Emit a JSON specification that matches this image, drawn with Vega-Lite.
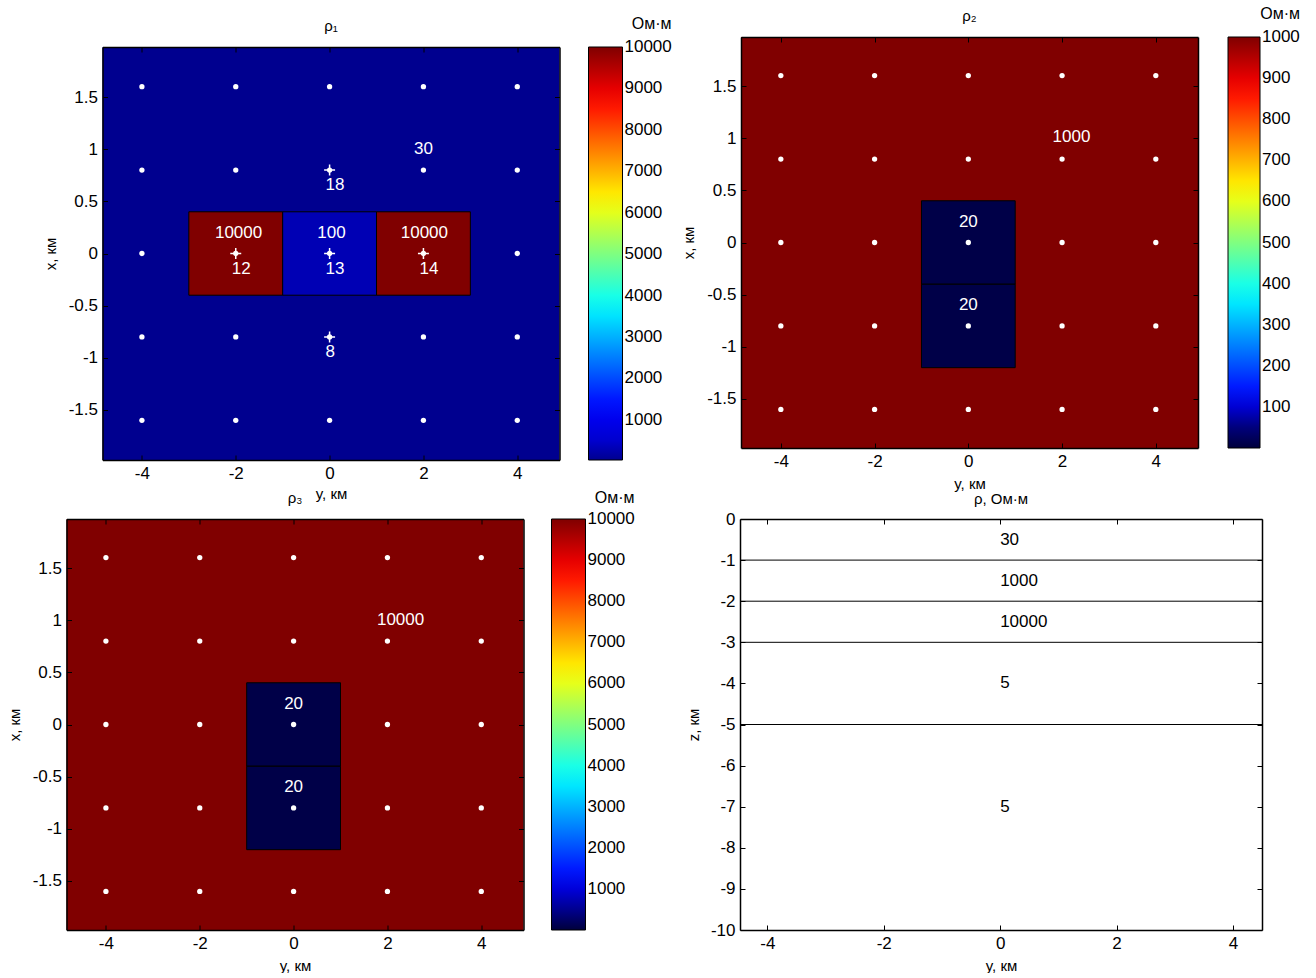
{
  "$schema": "https://vega.github.io/schema/vega-lite/v6.json",
  "background": "white",
  "padding": {"left": 6.5, "top": 6, "right": 5, "bottom": 0},
  "autosize": {"type": "pad"},
  "config": {
    "font": "Liberation Sans",
    "view": {"stroke": null},
    "axis": {"labelFontSize": 17, "titleFontSize": 15, "titleFontWeight": "normal", "labelColor": "black", "titleColor": "black", "tickColor": "black", "domainColor": "black", "domainWidth": 1.5, "tickSize": -5, "tickWidth": 1, "labelPadding": 10, "grid": false, "labelFont": "Liberation Sans", "titleFont": "Liberation Sans"},
    "legend": {"titleFontSize": 16, "titleFontWeight": "normal", "labelFontSize": 17, "labelColor": "black", "titleColor": "black", "labelOffset": 3, "labelBaseline": "middle", "gradientStrokeColor": "black", "gradientStrokeWidth": 1, "padding": 0, "titlePadding": 15, "labelOverlap": false, "labelFont": "Liberation Sans", "titleFont": "Liberation Sans"},
    "title": {"fontSize": 15, "fontWeight": "normal", "color": "black", "font": "Liberation Sans"}
  },
  "datasets": {
    "st": [
      {"ykm": -4, "xkm": 1.6}, {"ykm": -2, "xkm": 1.6}, {"ykm": 0, "xkm": 1.6}, {"ykm": 2, "xkm": 1.6}, {"ykm": 4, "xkm": 1.6},
      {"ykm": -4, "xkm": 0.8}, {"ykm": -2, "xkm": 0.8}, {"ykm": 0, "xkm": 0.8}, {"ykm": 2, "xkm": 0.8}, {"ykm": 4, "xkm": 0.8},
      {"ykm": -4, "xkm": 0}, {"ykm": -2, "xkm": 0}, {"ykm": 0, "xkm": 0}, {"ykm": 2, "xkm": 0}, {"ykm": 4, "xkm": 0},
      {"ykm": -4, "xkm": -0.8}, {"ykm": -2, "xkm": -0.8}, {"ykm": 0, "xkm": -0.8}, {"ykm": 2, "xkm": -0.8}, {"ykm": 4, "xkm": -0.8},
      {"ykm": -4, "xkm": -1.6}, {"ykm": -2, "xkm": -1.6}, {"ykm": 0, "xkm": -1.6}, {"ykm": 2, "xkm": -1.6}, {"ykm": 4, "xkm": -1.6}
    ],
    "sp1": [
      {"ykm": 0, "xkm": 0.8, "n": "18"},
      {"ykm": -2, "xkm": 0, "n": "12"},
      {"ykm": 0, "xkm": 0, "n": "13"},
      {"ykm": 2, "xkm": 0, "n": "14"},
      {"ykm": 0, "xkm": -0.8, "n": "8"}
    ]
  },
  "spacing": -11,
  "resolve": {"scale": {"color": "independent"}, "legend": {"color": "independent"}},
  "vconcat": [
    {
      "spacing": 8.5,
      "resolve": {"scale": {"color": "independent"}, "legend": {"color": "independent"}},
      "hconcat": [
        {
          "spacing": -31,
          "resolve": {"scale": {"color": "independent"}, "legend": {"color": "independent"}},
          "vconcat": [
            {"width": 1, "height": 10, "data": {"values": []}, "mark": "point", "view": {"fill": "white"}},
            {
              "spacing": -61,
              "resolve": {"scale": {"color": "independent"}, "legend": {"color": "independent"}},
              "hconcat": [
                {"width": 36, "height": 1, "data": {"values": []}, "mark": "point", "view": {"fill": "white"}},
                {
                  "width": 457, "height": 413,
                  "title": {"text": "ρ₁", "offset": -18},
                  "resolve": {"axis": {"x": "independent", "y": "independent"}},
                  "layer": [
                    {
                      "data": {"values": [{"y1": -4.84, "y2": 4.9, "x1": -1.98, "x2": 1.98, "rho": 30}]},
                      "mark": {"type": "rect"},
                      "encoding": {
                        "x": {"field": "y1", "type": "quantitative", "scale": {"domain": [-4.84, 4.9], "nice": false, "zero": false}, "axis": {"orient": "bottom", "values": [-4, -2, 0, 2, 4], "labelExpr": "''+datum.value", "title": "y, км", "titlePadding": 5, "zindex": 1}},
                        "x2": {"field": "y2"},
                        "y": {"field": "x1", "type": "quantitative", "scale": {"domain": [-1.98, 1.98], "nice": false, "zero": false}, "axis": {"orient": "left", "values": [-1.5, -1, -0.5, 0, 0.5, 1, 1.5], "labelExpr": "''+datum.value", "title": "x, км", "titlePadding": 10, "zindex": 1}},
                        "y2": {"field": "x2"},
                        "color": {"field": "rho", "type": "quantitative", "scale": {"type": "linear", "domain": [30, 100, 1276, 3769, 6261, 8754, 10000], "range": ["#00008F", "#0000B4", "#0000FF", "#00FFFF", "#FFFF00", "#FF0000", "#800000"], "interpolate": "rgb"}, "legend": {"title": "Ом·м", "orient": "none", "legendX": 486, "legendY": -31, "direction": "vertical", "gradientLength": 413, "gradientThickness": 34, "values": [1000, 2000, 3000, 4000, 5000, 6000, 7000, 8000, 9000, 10000], "labelExpr": "''+datum.value", "titleAnchor": "end", "encode": {"labels": {"update": {"baseline": {"value": "middle"}}}}}}
                      }
                    },
                    {
                      "data": {"values": [{"y1": -3, "y2": -1, "x1": -0.4, "x2": 0.4, "rho": 10000}, {"y1": -1, "y2": 1, "x1": -0.4, "x2": 0.4, "rho": 100}, {"y1": 1, "y2": 3, "x1": -0.4, "x2": 0.4, "rho": 10000}]},
                      "mark": {"type": "rect", "stroke": "black", "strokeWidth": 1},
                      "encoding": {
                        "x": {"field": "y1", "type": "quantitative", "scale": {"domain": [-4.84, 4.9], "nice": false, "zero": false}, "axis": {"orient": "top", "values": [-4, -2, 0, 2, 4], "labels": false, "title": null, "zindex": 1}},
                        "x2": {"field": "y2"},
                        "y": {"field": "x1", "type": "quantitative", "scale": {"domain": [-1.98, 1.98], "nice": false, "zero": false}, "axis": {"orient": "right", "values": [-1.5, -1, -0.5, 0, 0.5, 1, 1.5], "labels": false, "title": null, "zindex": 1}},
                        "y2": {"field": "x2"},
                        "color": {"field": "rho", "type": "quantitative", "scale": {"type": "linear", "domain": [30, 100, 1276, 3769, 6261, 8754, 10000], "range": ["#00008F", "#0000B4", "#0000FF", "#00FFFF", "#FFFF00", "#FF0000", "#800000"], "interpolate": "rgb"}, "legend": {"title": "Ом·м", "orient": "none", "legendX": 486, "legendY": -31, "direction": "vertical", "gradientLength": 413, "gradientThickness": 34, "values": [1000, 2000, 3000, 4000, 5000, 6000, 7000, 8000, 9000, 10000], "labelExpr": "''+datum.value", "titleAnchor": "end", "encode": {"labels": {"update": {"baseline": {"value": "middle"}}}}}}
                      }
                    },
                    {
                      "data": {"name": "st"},
                      "mark": {"type": "point", "filled": true, "color": "white", "size": 28, "opacity": 1},
                      "encoding": {
                        "x": {"field": "ykm", "type": "quantitative", "scale": {"domain": [-4.84, 4.9], "nice": false, "zero": false}, "axis": null},
                        "y": {"field": "xkm", "type": "quantitative", "scale": {"domain": [-1.98, 1.98], "nice": false, "zero": false}, "axis": null}
                      }
                    },
                    {
                      "data": {"name": "sp1"},
                      "mark": {"type": "point", "shape": "M-1,0L1,0M0,-1L0,1", "filled": false, "stroke": "white", "strokeWidth": 1.5, "size": 120, "opacity": 1},
                      "encoding": {
                        "x": {"field": "ykm", "type": "quantitative", "scale": {"domain": [-4.84, 4.9], "nice": false, "zero": false}, "axis": null},
                        "y": {"field": "xkm", "type": "quantitative", "scale": {"domain": [-1.98, 1.98], "nice": false, "zero": false}, "axis": null}
                      }
                    },
                    {
                      "data": {"name": "sp1"},
                      "mark": {"type": "text", "color": "white", "fontSize": 17, "align": "left", "dx": -4, "dy": 15},
                      "encoding": {
                        "x": {"field": "ykm", "type": "quantitative", "scale": {"domain": [-4.84, 4.9], "nice": false, "zero": false}, "axis": null},
                        "y": {"field": "xkm", "type": "quantitative", "scale": {"domain": [-1.98, 1.98], "nice": false, "zero": false}, "axis": null},
                        "text": {"field": "n"}
                      }
                    },
                    {
                      "data": {"values": [{"ykm": -1.94, "xkm": 0.2, "t": "10000"}, {"ykm": 0.04, "xkm": 0.2, "t": "100"}, {"ykm": 2.02, "xkm": 0.2, "t": "10000"}, {"ykm": 2.0, "xkm": 1.0, "t": "30"}]},
                      "mark": {"type": "text", "color": "white", "fontSize": 17},
                      "encoding": {
                        "x": {"field": "ykm", "type": "quantitative", "scale": {"domain": [-4.84, 4.9], "nice": false, "zero": false}, "axis": null},
                        "y": {"field": "xkm", "type": "quantitative", "scale": {"domain": [-1.98, 1.98], "nice": false, "zero": false}, "axis": null},
                        "text": {"field": "t"}
                      }
                    }
                  ]
                }
              ]
            }
          ]
        },
        {
          "width": 457, "height": 411,
          "title": {"text": "ρ₂", "offset": -18},
          "resolve": {"axis": {"x": "independent", "y": "independent"}},
          "layer": [
            {
              "data": {"values": [{"y1": -4.85, "y2": 4.9, "x1": -1.97, "x2": 1.97, "rho": 1000}]},
              "mark": {"type": "rect"},
              "encoding": {
                "x": {"field": "y1", "type": "quantitative", "scale": {"domain": [-4.85, 4.9], "nice": false, "zero": false}, "axis": {"orient": "bottom", "values": [-4, -2, 0, 2, 4], "labelExpr": "''+datum.value", "title": "y, км", "titlePadding": 7, "zindex": 1}},
                "x2": {"field": "y2"},
                "y": {"field": "x1", "type": "quantitative", "scale": {"domain": [-1.97, 1.97], "nice": false, "zero": false}, "axis": {"orient": "left", "values": [-1.5, -1, -0.5, 0, 0.5, 1, 1.5], "labelExpr": "''+datum.value", "title": "x, км", "titlePadding": 10, "zindex": 1}},
                "y2": {"field": "x2"},
                "color": {"field": "rho", "type": "quantitative", "scale": {"type": "linear", "domain": [0, 20, 125, 375, 625, 875, 1000], "range": ["#00003C", "#000048", "#0000FF", "#00FFFF", "#FFFF00", "#FF0000", "#800000"], "interpolate": "rgb"}, "legend": {"title": "Ом·м", "orient": "none", "legendX": 487, "legendY": -31, "direction": "vertical", "gradientLength": 411, "gradientThickness": 32, "values": [100, 200, 300, 400, 500, 600, 700, 800, 900, 1000], "labelExpr": "''+datum.value", "titleAnchor": "end", "encode": {"labels": {"update": {"baseline": {"value": "middle"}}}}}}
              }
            },
            {
              "data": {"values": [{"y1": -1, "y2": 1, "x1": -0.4, "x2": 0.4, "rho": 20}, {"y1": -1, "y2": 1, "x1": -1.2, "x2": -0.4, "rho": 20}]},
              "mark": {"type": "rect", "stroke": "black", "strokeWidth": 1},
              "encoding": {
                "x": {"field": "y1", "type": "quantitative", "scale": {"domain": [-4.85, 4.9], "nice": false, "zero": false}, "axis": {"orient": "top", "values": [-4, -2, 0, 2, 4], "labels": false, "title": null, "zindex": 1}},
                "x2": {"field": "y2"},
                "y": {"field": "x1", "type": "quantitative", "scale": {"domain": [-1.97, 1.97], "nice": false, "zero": false}, "axis": {"orient": "right", "values": [-1.5, -1, -0.5, 0, 0.5, 1, 1.5], "labels": false, "title": null, "zindex": 1}},
                "y2": {"field": "x2"},
                "color": {"field": "rho", "type": "quantitative", "scale": {"type": "linear", "domain": [0, 20, 125, 375, 625, 875, 1000], "range": ["#00003C", "#000048", "#0000FF", "#00FFFF", "#FFFF00", "#FF0000", "#800000"], "interpolate": "rgb"}, "legend": {"title": "Ом·м", "orient": "none", "legendX": 487, "legendY": -31, "direction": "vertical", "gradientLength": 411, "gradientThickness": 32, "values": [100, 200, 300, 400, 500, 600, 700, 800, 900, 1000], "labelExpr": "''+datum.value", "titleAnchor": "end", "encode": {"labels": {"update": {"baseline": {"value": "middle"}}}}}}
              }
            },
            {
              "data": {"name": "st"},
              "mark": {"type": "point", "filled": true, "color": "white", "size": 28, "opacity": 1},
              "encoding": {
                "x": {"field": "ykm", "type": "quantitative", "scale": {"domain": [-4.85, 4.9], "nice": false, "zero": false}, "axis": null},
                "y": {"field": "xkm", "type": "quantitative", "scale": {"domain": [-1.97, 1.97], "nice": false, "zero": false}, "axis": null}
              }
            },
            {
              "data": {"values": [{"ykm": 0, "xkm": 0.2, "t": "20"}, {"ykm": 0, "xkm": -0.6, "t": "20"}, {"ykm": 2.2, "xkm": 1.01, "t": "1000"}]},
              "mark": {"type": "text", "color": "white", "fontSize": 17},
              "encoding": {
                "x": {"field": "ykm", "type": "quantitative", "scale": {"domain": [-4.85, 4.9], "nice": false, "zero": false}, "axis": null},
                "y": {"field": "xkm", "type": "quantitative", "scale": {"domain": [-1.97, 1.97], "nice": false, "zero": false}, "axis": null},
                "text": {"field": "t"}
              }
            }
          ]
        }
      ]
    },
    {
      "spacing": 50.5,
      "resolve": {"scale": {"color": "independent"}, "legend": {"color": "independent"}},
      "hconcat": [
        {
          "width": 457, "height": 411,
          "title": {"text": "ρ₃", "offset": -16},
          "resolve": {"axis": {"x": "independent", "y": "independent"}},
          "layer": [
            {
              "data": {"values": [{"y1": -4.84, "y2": 4.9, "x1": -1.97, "x2": 1.97, "rho": 10000}]},
              "mark": {"type": "rect"},
              "encoding": {
                "x": {"field": "y1", "type": "quantitative", "scale": {"domain": [-4.84, 4.9], "nice": false, "zero": false}, "axis": {"orient": "bottom", "values": [-4, -2, 0, 2, 4], "labelExpr": "''+datum.value", "title": "y, км", "titlePadding": 7, "zindex": 1}},
                "x2": {"field": "y2"},
                "y": {"field": "x1", "type": "quantitative", "scale": {"domain": [-1.97, 1.97], "nice": false, "zero": false}, "axis": {"orient": "left", "values": [-1.5, -1, -0.5, 0, 0.5, 1, 1.5], "labelExpr": "''+datum.value", "title": "x, км", "titlePadding": 10, "zindex": 1}},
                "y2": {"field": "x2"},
                "color": {"field": "rho", "type": "quantitative", "scale": {"type": "linear", "domain": [0, 20, 1250, 3750, 6250, 8750, 10000], "range": ["#00003C", "#000048", "#0000FF", "#00FFFF", "#FFFF00", "#FF0000", "#800000"], "interpolate": "rgb"}, "legend": {"title": "Ом·м", "orient": "none", "legendX": 485, "legendY": -29, "titlePadding": 13, "direction": "vertical", "gradientLength": 411, "gradientThickness": 34, "values": [1000, 2000, 3000, 4000, 5000, 6000, 7000, 8000, 9000, 10000], "labelExpr": "''+datum.value", "titleAnchor": "end", "encode": {"labels": {"update": {"baseline": {"value": "middle"}}}}}}
              }
            },
            {
              "data": {"values": [{"y1": -1, "y2": 1, "x1": -0.4, "x2": 0.4, "rho": 20}, {"y1": -1, "y2": 1, "x1": -1.2, "x2": -0.4, "rho": 20}]},
              "mark": {"type": "rect", "stroke": "black", "strokeWidth": 1},
              "encoding": {
                "x": {"field": "y1", "type": "quantitative", "scale": {"domain": [-4.84, 4.9], "nice": false, "zero": false}, "axis": {"orient": "top", "values": [-4, -2, 0, 2, 4], "labels": false, "title": null, "zindex": 1}},
                "x2": {"field": "y2"},
                "y": {"field": "x1", "type": "quantitative", "scale": {"domain": [-1.97, 1.97], "nice": false, "zero": false}, "axis": {"orient": "right", "values": [-1.5, -1, -0.5, 0, 0.5, 1, 1.5], "labels": false, "title": null, "zindex": 1}},
                "y2": {"field": "x2"},
                "color": {"field": "rho", "type": "quantitative", "scale": {"type": "linear", "domain": [0, 20, 1250, 3750, 6250, 8750, 10000], "range": ["#00003C", "#000048", "#0000FF", "#00FFFF", "#FFFF00", "#FF0000", "#800000"], "interpolate": "rgb"}, "legend": {"title": "Ом·м", "orient": "none", "legendX": 485, "legendY": -29, "titlePadding": 13, "direction": "vertical", "gradientLength": 411, "gradientThickness": 34, "values": [1000, 2000, 3000, 4000, 5000, 6000, 7000, 8000, 9000, 10000], "labelExpr": "''+datum.value", "titleAnchor": "end", "encode": {"labels": {"update": {"baseline": {"value": "middle"}}}}}}
              }
            },
            {
              "data": {"name": "st"},
              "mark": {"type": "point", "filled": true, "color": "white", "size": 28, "opacity": 1},
              "encoding": {
                "x": {"field": "ykm", "type": "quantitative", "scale": {"domain": [-4.84, 4.9], "nice": false, "zero": false}, "axis": null},
                "y": {"field": "xkm", "type": "quantitative", "scale": {"domain": [-1.97, 1.97], "nice": false, "zero": false}, "axis": null}
              }
            },
            {
              "data": {"values": [{"ykm": 0, "xkm": 0.2, "t": "20"}, {"ykm": 0, "xkm": -0.6, "t": "20"}, {"ykm": 2.28, "xkm": 1.0, "t": "10000"}]},
              "mark": {"type": "text", "color": "white", "fontSize": 17},
              "encoding": {
                "x": {"field": "ykm", "type": "quantitative", "scale": {"domain": [-4.84, 4.9], "nice": false, "zero": false}, "axis": null},
                "y": {"field": "xkm", "type": "quantitative", "scale": {"domain": [-1.97, 1.97], "nice": false, "zero": false}, "axis": null},
                "text": {"field": "t"}
              }
            }
          ]
        },
        {
          "width": 522, "height": 411,
          "title": {"text": "ρ, Ом·м", "offset": 3},
          "resolve": {"axis": {"x": "independent", "y": "independent"}},
          "layer": [
            {
              "data": {"values": [{"yk": 0, "z": -0.5, "t": "30"}, {"yk": 0, "z": -1.5, "t": "1000"}, {"yk": 0, "z": -2.5, "t": "10000"}, {"yk": 0, "z": -4, "t": "5"}, {"yk": 0, "z": -7, "t": "5"}]},
              "mark": {"type": "text", "align": "left", "fontSize": 17, "color": "black"},
              "encoding": {
                "x": {"field": "yk", "type": "quantitative", "scale": {"domain": [-4.47, 4.5], "nice": false, "zero": false}, "axis": {"orient": "bottom", "values": [-4, -2, 0, 2, 4], "labelExpr": "''+datum.value", "title": "y, км", "titlePadding": 7, "zindex": 1}},
                "y": {"field": "z", "type": "quantitative", "scale": {"domain": [-10, 0], "nice": false, "zero": false}, "axis": {"orient": "left", "values": [-10, -9, -8, -7, -6, -5, -4, -3, -2, -1, 0], "labelExpr": "''+datum.value", "title": "z, км", "titlePadding": 9, "zindex": 1}},
                "text": {"field": "t"}
              }
            },
            {
              "data": {"values": [{"z": -1}, {"z": -2}, {"z": -3}, {"z": -5}]},
              "mark": {"type": "rule", "color": "black", "strokeWidth": 1},
              "encoding": {
                "x": {"datum": -4.47, "type": "quantitative", "scale": {"domain": [-4.47, 4.5], "nice": false, "zero": false}, "axis": {"orient": "top", "values": [-4, -2, 0, 2, 4], "labels": false, "title": null, "zindex": 1}},
                "x2": {"datum": 4.5},
                "y": {"field": "z", "type": "quantitative", "scale": {"domain": [-10, 0], "nice": false, "zero": false}, "axis": {"orient": "right", "values": [-10, -9, -8, -7, -6, -5, -4, -3, -2, -1, 0], "labels": false, "title": null, "zindex": 1}}
              }
            }
          ]
        }
      ]
    }
  ]
}
